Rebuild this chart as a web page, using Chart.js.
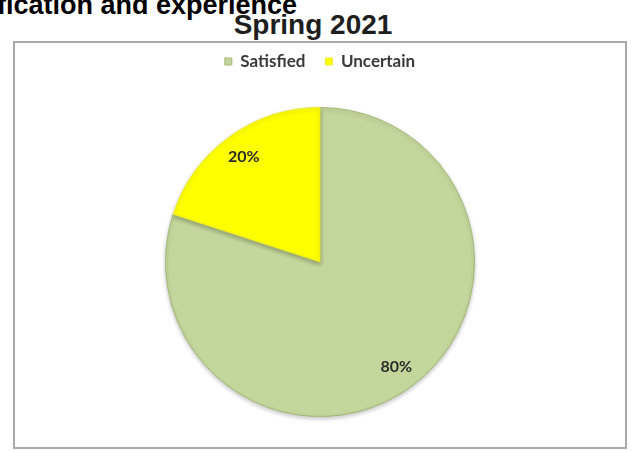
<!DOCTYPE html>
<html>
<head>
<meta charset="utf-8">
<script src="https://cdn.jsdelivr.net/npm/chart.js@4.4.1/dist/chart.umd.min.js"></script>
<style>
  html, body { margin: 0; padding: 0; background: #fff; }
  body { width: 636px; height: 451px; position: relative; overflow: hidden; }
  .heading {
    position: absolute; right: 339px; top: -10px; white-space: nowrap; line-height: 27px;
    font: bold 27px "Liberation Sans", Arial, sans-serif; color: #000;
  }
  .title {
    position: absolute; left: 0; width: 626px; top: 9px; text-align: center; line-height: 28px;
    font: bold 28px "Liberation Sans", Arial, sans-serif; color: #1e1e1e;
  }
  .frame {
    position: absolute; left: 13px; top: 41px; width: 610px; height: 404px;
    border: 2px solid #a9a9a9;
  }
  canvas { display: block; }
</style>
</head>
<body>
<div class="heading">Qualification and experience</div>
<div class="title">Spring 2021</div>
<div class="frame">
  <canvas id="springPie" width="610" height="404"></canvas>
</div>
<script>
// Survey answers, percent of respondents
const categories = ['Satisfied', 'Uncertain'];
const shares = [80, 20];
const sliceColors = ['#C3D69B', '#FFFF00'];
const sliceEdges = ['#a3b878', '#eaea30'];

// Leaves a gap between the legend row and the pie
const legendGap = {
  id: 'legendGap',
  beforeInit(chart) {
    const fit = chart.legend.fit;
    chart.legend.fit = function () {
      fit.call(this);
      this.height += 27;
    };
  }
};

// Soft shadow under the pie
const pieShadow = {
  id: 'pieShadow',
  beforeDatasetsDraw(chart) {
    const { ctx } = chart;
    ctx.save();
    ctx.shadowColor = 'rgba(0,0,0,0.22)';
    ctx.shadowBlur = 4;
    ctx.shadowOffsetY = 2;
  },
  afterDatasetsDraw(chart) {
    chart.ctx.restore();
  }
};

// Writes the percentage inside each slice, along its middle angle
const sliceLabels = {
  id: 'sliceLabels',
  afterDatasetsDraw(chart) {
    const { ctx } = chart;
    const meta = chart.getDatasetMeta(0);
    ctx.save();
    ctx.font = 'bold 16px Lato, "Open Sans", sans-serif';
    ctx.fillStyle = '#2b2b2b';
    ctx.textAlign = 'center';
    ctx.textBaseline = 'middle';
    meta.data.forEach((arc, i) => {
      const mid = (arc.startAngle + arc.endAngle) / 2;
      const r = arc.outerRadius * 0.84;
      ctx.fillText(shares[i] + '%', arc.x + Math.cos(mid) * r, arc.y + Math.sin(mid) * r);
    });
    ctx.restore();
  }
};

new Chart(document.getElementById('springPie'), {
  type: 'pie',
  data: {
    labels: categories,
    datasets: [{
      data: shares,
      backgroundColor: sliceColors,
      borderColor: sliceEdges,
      borderWidth: 1
    }]
  },
  options: {
    responsive: false,
    animation: false,
    layout: { padding: { top: -10, bottom: 30 } },
    plugins: {
      legend: {
        position: 'top',
        labels: {
          boxWidth: 7, boxHeight: 7, padding: 20,
          color: '#3a3a3a',
          font: { family: 'Lato, "Open Sans", sans-serif', size: 17, weight: 'bold' }
        }
      },
      tooltip: { enabled: false }
    }
  },
  plugins: [legendGap, pieShadow, sliceLabels]
});
</script>
</body>
</html>
